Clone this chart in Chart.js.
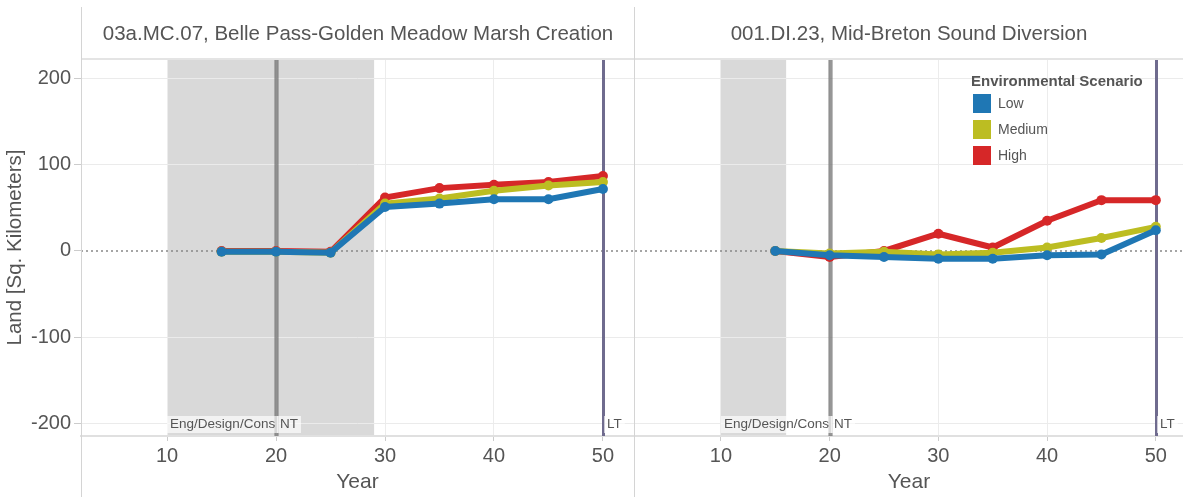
<!DOCTYPE html>
<html>
<head>
<meta charset="utf-8">
<script src="https://cdn.jsdelivr.net/npm/chart.js@4/dist/chart.umd.min.js"></script>
<style>
  body { margin: 0; background: #fff; font-family: "Liberation Sans", Arial, sans-serif; }
  #wrap { position: relative; width: 1183px; height: 497px; overflow: hidden; }
  canvas { position: absolute; top: 0; }
  .head { position: absolute; top: 7px; height: 52px; line-height: 52px; text-align: center; font-size: 20.5px; color: #555; }
  .vline { position: absolute; top: 7px; bottom: 0; width: 1px; background: #d4d4d4; }
  .hline { position: absolute; left: 81px; right: 0; height: 2px; background: #e4e4e4; }
  #legend { position: absolute; left: 971px; top: 72px; color: #555; font-size: 14px; }
  #legend .t { font-weight: bold; font-size: 15px; margin-bottom: 1px; }
  #legend .i { height: 26px; display: flex; align-items: center; }
  #legend .i span { display: inline-block; width: 18px; height: 19px; margin: 0 7px 0 2px; }
</style>
</head>
<body>
<div id="wrap">
  <canvas id="left" width="634" height="497" style="left:0"></canvas>
  <canvas id="right" width="548" height="497" style="left:635px"></canvas>
  <div class="hline" style="top:58px"></div>
  <div class="vline" style="left:81px"></div>
  <div class="vline" style="left:634px"></div>
  <div class="head" style="left:82px;width:552px">03a.MC.07, Belle Pass-Golden Meadow Marsh Creation</div>
  <div class="head" style="left:635px;width:548px">001.DI.23, Mid-Breton Sound Diversion</div>
  <div id="legend">
    <div class="t">Environmental Scenario</div>
  </div>
</div>
<script>
// data
const years = [15, 20, 25, 30, 35, 40, 45, 50]
const scenarios = ['Low', 'Medium', 'High']
const colors = ['#1f77b4', '#bcbd22', '#d62728']

const bellePass = {
    Low: [-1, -1, -2, 51, 55, 60, 60, 72],
    Medium: [-1, -1, -2, 55, 61, 70, 76, 80],
    High: [0, 0, -1, 62, 73, 77, 80, 87]
}
const midBreton = {
    Low: [0, -5, -7, -9, -9, -5, -4, 24],
    Medium: [0, -3, -1, -4, -2, 4, 15, 28],
    High: [0, -7, 0, 20, 4, 35, 59, 59]
}
const yTicks = [-200, -100, 0, 100, 200]
const xTicks = [10, 20, 30, 40, 50]
const bellePassBand = [10, 29]
const midBretonBand = [10, 16]
const ntYear = 20
const ltYear = 50

//legend
const legend = document.querySelector('#legend')
scenarios.forEach((name, i) => {
    const row = document.createElement('div')
    row.className = 'i'
    row.innerHTML = '<span style="background:' + colors[i] + '"></span>' + name
    legend.appendChild(row)
})

//shaded phase and marker lines
const phases = {
    id: 'phases',
    beforeDraw(chart) {
        const { ctx, chartArea: a, scales: { x } } = chart
        const band = chart.options.plugins.phases.band
        const b0 = x.getPixelForValue(band[0])
        const b1 = x.getPixelForValue(band[1])
        ctx.save()
        ctx.fillStyle = '#d9d9d9'
        ctx.fillRect(b0, a.top, b1 - b0, a.bottom - a.top)
        ctx.restore()
    },
    beforeDatasetsDraw(chart) {
        const { ctx, chartArea: a, scales: { x, y } } = chart
        const band = chart.options.plugins.phases.band
        ctx.save()
        // zero line
        const y0 = y.getPixelForValue(0)
        ctx.strokeStyle = '#888'
        ctx.lineWidth = 1.5
        ctx.setLineDash([2, 3])
        ctx.beginPath()
        ctx.moveTo(a.left, y0)
        ctx.lineTo(a.right, y0)
        ctx.stroke()
        ctx.setLineDash([])
        // NT line
        const xn = Math.round(x.getPixelForValue(ntYear))
        ctx.fillStyle = 'rgba(110,110,110,0.45)'
        ctx.fillRect(xn - 2, a.top, 5, a.bottom - a.top)
        ctx.fillStyle = 'rgba(110,110,110,0.5)'
        ctx.fillRect(xn - 1, a.top, 3, a.bottom - a.top)
        // LT line
        const xl = Math.round(x.getPixelForValue(ltYear))
        ctx.fillStyle = '#6f6b8e'
        ctx.fillRect(xl - 1, a.top, 3, a.bottom - a.top)
        // labels
        ctx.font = '13.5px "Liberation Sans", Arial, sans-serif'
        ctx.textBaseline = 'middle'
        const ly = a.bottom - 12
        const label = (txt, px) => {
            const w = ctx.measureText(txt).width
            ctx.fillStyle = 'rgba(255,255,255,0.65)'
            ctx.fillRect(px, ly - 8, w + 6, 17)
            ctx.fillStyle = '#555'
            ctx.fillText(txt, px + 3, ly)
        }
        label('Eng/Design/Cons', x.getPixelForValue(band[0]))
        label('NT', xn + 1)
        label('LT', xl + 1)
        ctx.restore()
    }
}

const makeDatasets = (set) => scenarios.map((name, i) => ({
    label: name,
    data: years.map((yr, j) => ({ x: yr, y: set[name][j] })),
    borderColor: colors[i],
    backgroundColor: colors[i],
    borderWidth: 6,
    pointRadius: 5,
    pointBorderWidth: 0,
    pointHoverRadius: 5,
    tension: 0
}))

const fam = '"Liberation Sans", Arial, sans-serif'
const tickFont = { family: fam, size: 20 }

function config(set, band, showY, xMax) {
    return {
        type: 'line',
        data: { datasets: makeDatasets(set) },
        options: {
            responsive: false,
            animation: false,
            layout: { autoPadding: false, padding: { top: 59, right: 0, left: 0, bottom: 0 } },
            plugins: {
                legend: { display: false },
                tooltip: { enabled: false },
                phases: { band: band }
            },
            scales: {
                x: {
                    type: 'linear',
                    min: 2.1,
                    max: xMax,
                    afterBuildTicks: (s) => { s.ticks = xTicks.map(v => ({ value: v })) },
                    afterFit: (s) => { s.height = 61 },
                    grid: {
                        color: (c) => c.tick && xTicks.includes(c.tick.value) ? '#ececec' : 'rgba(0,0,0,0)',
                        tickLength: 5,
                        tickColor: '#ccc'
                    },
                    border: { color: '#e0e0e0', width: 2 },
                    ticks: { font: tickFont, color: '#555', padding: 3 },
                    title: { display: true, text: 'Year', font: { family: fam, size: 21 }, color: '#555', padding: { top: 0, bottom: 2 } }
                },
                y: {
                    min: -215,
                    max: 223,
                    afterBuildTicks: (s) => { s.ticks = yTicks.map(v => ({ value: v })) },
                    afterFit: (s) => { s.width = showY ? 81 : 0 },
                    grid: {
                        color: (c) => c.tick && c.tick.value === 0 ? 'rgba(0,0,0,0)' : '#ebebeb',
                        tickLength: 7,
                        tickColor: '#ccc',
                        drawTicks: showY
                    },
                    border: { display: false },
                    ticks: { display: showY, font: tickFont, color: '#555', padding: 3 },
                    title: { display: showY, text: 'Land [Sq. Kilometers]', font: { family: fam, size: 20.5 }, color: '#555', padding: { top: 3, bottom: 0 } }
                }
            }
        },
        plugins: [phases]
    }
}

document.addEventListener('DOMContentLoaded', () => {
    new Chart(document.querySelector('#left'), config(bellePass, bellePassBand, true, 52.85))
    new Chart(document.querySelector('#right'), config(midBreton, midBretonBand, false, 52.5))
})
</script>
</body>
</html>
